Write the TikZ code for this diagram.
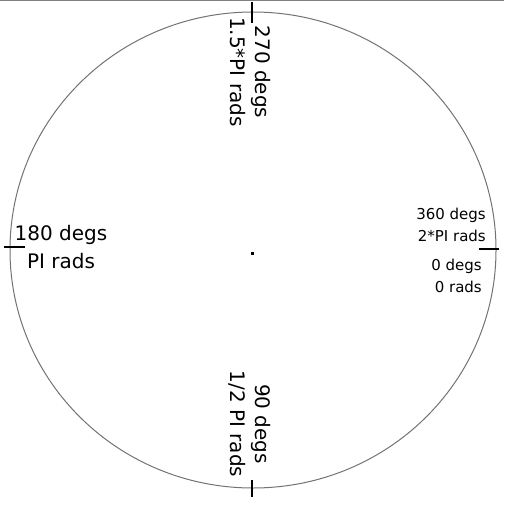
\documentclass[tikz,border=0pt]{standalone}
\usepackage{fontspec}
\setmainfont{DejaVu Sans}
\usetikzlibrary{positioning}

\begin{document}
\begin{tikzpicture}[
    x=1pt, y=-1pt,
    font=\fontsize{20}{28}\selectfont,
    biglabel/.style={align=center, inner sep=0pt},
    smalllabel/.style={align=right, inner sep=0pt, anchor=east, font=\fontsize{15}{22}\selectfont},
    tickmark/.style={line width=2pt}
]

\useasboundingbox (0,0) rectangle (504,505);

% Window edge
\draw [gray, line width=1.5pt] (0,0.75) -- (504,0.75);

% The circle
\draw [gray!90!black, line width=1pt] (253,250) ellipse [x radius=243, y radius=238];

% Tick marks
\draw [tickmark] (252,2) -- (252,23);
\draw [tickmark] (252,480) -- (252,497);
\draw [tickmark] (4,247) -- (25,247);
\draw [tickmark] (479,249) -- (499,249);

% Centre dot
\fill (251,252) rectangle (254,255);

% Labels
\node (top) at (250,72) [biglabel, rotate=-90, font=\fontsize{20}{25}\selectfont] {270 degs\\1.5*PI rads};
\node (bottom) at (250,424) [biglabel, rotate=-90, font=\fontsize{20}{25}\selectfont] {90 degs\\1/2 PI rads};
\node (left) at (61,247) [biglabel] {180 degs\\PI rads};
\node (right360) at (486,225) [smalllabel] {360 degs\\2*PI rads};
\node (right0) at (482,276) [smalllabel] {0 degs\\0 rads};

\end{tikzpicture}
\end{document}
